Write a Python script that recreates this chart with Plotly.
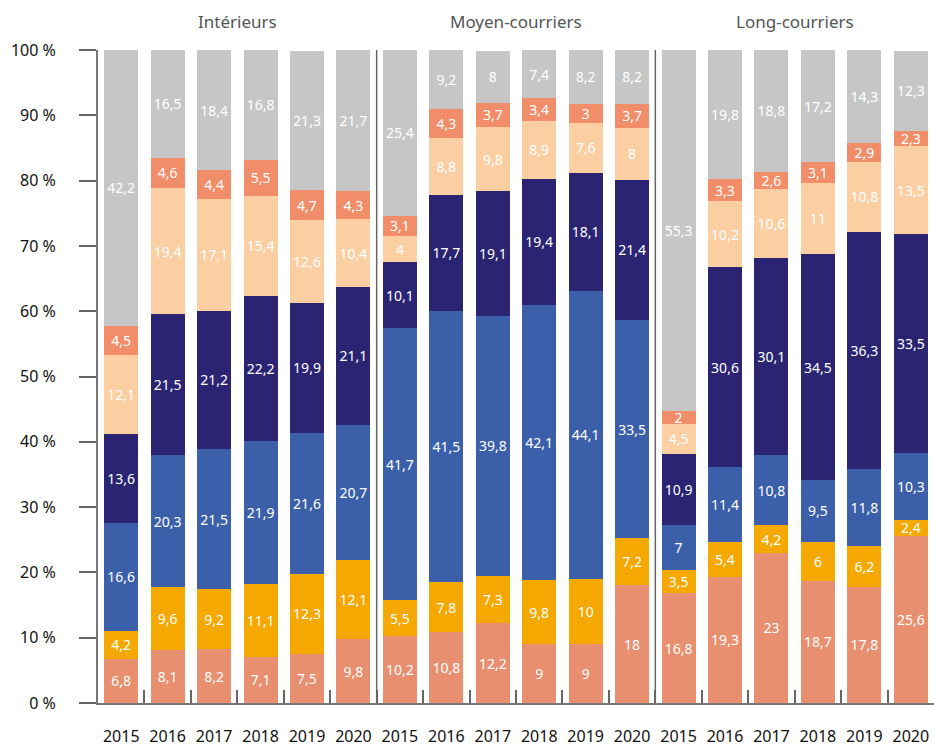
import plotly.graph_objects as go

groups = ["Intérieurs", "Moyen-courriers", "Long-courriers"]
years = ["2015", "2016", "2017", "2018", "2019", "2020"]

# one list per segment, bottom to top, 18 values (3 groups x 6 years)
seg1 = [6.8, 8.1, 8.2, 7.1, 7.5, 9.8,
        10.2, 10.8, 12.2, 9, 9, 18,
        16.8, 19.3, 23, 18.7, 17.8, 25.6]
seg2 = [4.2, 9.6, 9.2, 11.1, 12.3, 12.1,
        5.5, 7.8, 7.3, 9.8, 10, 7.2,
        3.5, 5.4, 4.2, 6, 6.2, 2.4]
seg3 = [16.6, 20.3, 21.5, 21.9, 21.6, 20.7,
        41.7, 41.5, 39.8, 42.1, 44.1, 33.5,
        7, 11.4, 10.8, 9.5, 11.8, 10.3]
seg4 = [13.6, 21.5, 21.2, 22.2, 19.9, 21.1,
        10.1, 17.7, 19.1, 19.4, 18.1, 21.4,
        10.9, 30.6, 30.1, 34.5, 36.3, 33.5]
seg5 = [12.1, 19.4, 17.1, 15.4, 12.6, 10.4,
        4, 8.8, 9.8, 8.9, 7.6, 8,
        4.5, 10.2, 10.6, 11, 10.8, 13.5]
seg6 = [4.5, 4.6, 4.4, 5.5, 4.7, 4.3,
        3.1, 4.3, 3.7, 3.4, 3, 3.7,
        2, 3.3, 2.6, 3.1, 2.9, 2.3]
seg7 = [42.2, 16.5, 18.4, 16.8, 21.3, 21.7,
        25.4, 9.2, 8, 7.4, 8.2, 8.2,
        55.3, 19.8, 18.8, 17.2, 14.3, 12.3]

segments = [seg1, seg2, seg3, seg4, seg5, seg6, seg7]
colors = ["#E88F6F", "#F5A800", "#3C5FA9", "#2A2472", "#FBCFA2", "#F28D6A", "#C6C6C6"]

cats = [g + " " + y for g in groups for y in years]
ticktext = [y for g in groups for y in years]

FONT = "Noto Sans"


def fmt(v):
    s = ("%.1f" % v).rstrip("0").rstrip(".")
    return s.replace(".", ",")


fig = go.Figure()
for vals, col in zip(segments, colors):
    fig.add_trace(go.Bar(
        x=cats, y=vals,
        marker=dict(color=col, line=dict(width=0)),
        text=[fmt(v) for v in vals],
        textposition="inside",
        insidetextanchor="middle",
        textangle=0,
        textfont=dict(color="white", size=14, family=FONT),
        hoverinfo="skip",
    ))

# group separators and titles
n = len(years)
for i in range(1, len(groups)):
    fig.add_shape(type="line", xref="x", yref="y",
                  x0=i * n - 0.5, x1=i * n - 0.5, y0=0, y1=100,
                  line=dict(color="#666", width=1.5))
for i, g in enumerate(groups):
    fig.add_annotation(x=i * n + (n - 1) / 2, y=1, yref="paper", yanchor="bottom",
                       text=g, showarrow=False, yshift=15,
                       font=dict(size=17, color="#555", family=FONT))

fig.update_layout(
    barmode="stack",
    bargap=0.27,
    width=934, height=746,
    margin=dict(l=98, r=0, t=50, b=43, autoexpand=False),
    plot_bgcolor="white", paper_bgcolor="white",
    showlegend=False,
    uniformtext=dict(minsize=14, mode="show"),
    font=dict(family=FONT, color="#111"),
)
fig.update_xaxes(
    type="category", tickvals=cats, ticktext=ticktext, tickangle=0,
    tickson="boundaries", ticks="inside", ticklen=13, tickcolor="#666", tickwidth=1.5,
    showline=True, linecolor="#777", linewidth=2,
    tickfont=dict(size=16, color="#111", family=FONT), ticklabelstandoff=18,
    showgrid=False, automargin=False,
)
fig.update_yaxes(
    range=[0, 100], tickvals=list(range(0, 101, 10)),
    ticktext=[f"{v} %" for v in range(0, 101, 10)],
    ticks="outside", ticklen=17, tickcolor="#666", tickwidth=1.5,
    showline=True, linecolor="#777", linewidth=2,
    tickfont=dict(size=16, color="#111", family=FONT), ticklabelstandoff=20,
    showgrid=False, zeroline=False, automargin=False,
)

fig.write_html("out.html", config={"displayModeBar": False},
               post_script="document.body.style.margin='0';")
